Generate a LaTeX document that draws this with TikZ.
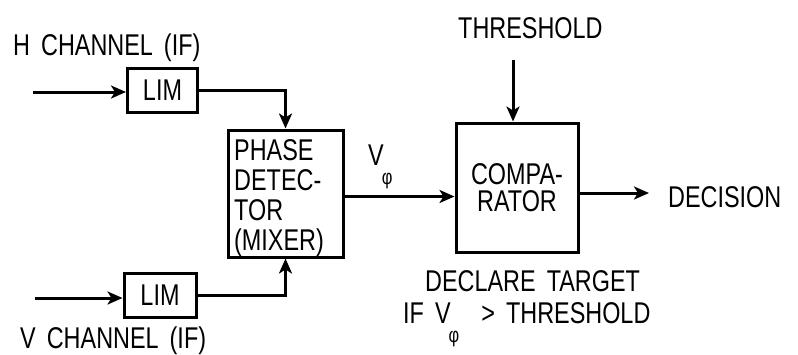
\documentclass[tikz,border=0pt]{standalone}
\usepackage{fontspec}
\setmainfont{Liberation Sans}[FakeStretch=0.78, WordSpace=1.7]
\usetikzlibrary{arrows.meta,calc}
\newcommand\phisub{\kern-2pt\raisebox{-19pt}{\fontsize{21}{21}\selectfont φ}}
\begin{document}
\begin{tikzpicture}[x=1pt,y=-1pt,
  font=\fontsize{30}{30}\selectfont,
  blk/.style={draw,line width=3pt,inner sep=0pt},
  lbl/.style={inner sep=0pt,anchor=base west},
  conn/.style={line width=3pt},
  arr/.style={conn,-{Stealth[length=15pt,width=13pt,inset=4pt]}}]
\useasboundingbox (0,0) rectangle (798,354);
% labels
\node[lbl] (hch) at (13,55) {H CHANNEL (IF)};
\node[lbl] (vch) at (20,348) {V CHANNEL (IF)};
\node[lbl] (thrl) at (458,38) {THRESHOLD};
\node[lbl] (dec) at (668,207) {DECISION};
\node[lbl] (decl1) at (425,291) {DECLARE TARGET};
\node[lbl] (decl2) at (403,323) {IF V\phisub\ \ > THRESHOLD};
\node[lbl] (vphi) at (368,165) {V\phisub};
% blocks
\node[blk,minimum width=70pt,minimum height=44pt] (hlim) at (162.5,90) {LIM};
\node[blk,minimum width=72pt,minimum height=44pt] (vlim) at (160,295) {LIM};
\node[blk,minimum width=115pt,minimum height=127pt] (pd) at (285.5,193.5) {};
\node[inner sep=0pt,anchor=north west,align=left,font=\fontsize{30}{30}\selectfont] (pdt) at (234,139) {PHASE\\DETEC-\\TOR\\(MIXER)};
\node[blk,minimum width=122pt,minimum height=129pt] (cmp) at (517,187.5) {};
\node[inner sep=0pt,anchor=north,align=center,font=\fontsize{30}{27}\selectfont] (cmpt) at (517,163) {COMPA-\\RATOR};
% coordinates
\coordinate (hin) at (33,92);
\coordinate (vin) at (35,298);
\coordinate (thr) at (513,60);
\coordinate (out) at (649,193);
% connectors
\draw[arr] (hin) -- (hin -| hlim.west);
\draw[arr] (vin) -- (vin -| vlim.west);
\draw[arr] (hlim.east) -| (pd.north);
\draw[arr] (vlim.east) -| (pd.south);
\draw[arr] ($(pd.east)+(0,3)$) coordinate (pdo) -- (pdo -| cmp.west);
\draw[arr] (thr) -- (thr |- cmp.north);
\draw[arr] (out -| cmp.east) -- (out);
\end{tikzpicture}
\end{document}
